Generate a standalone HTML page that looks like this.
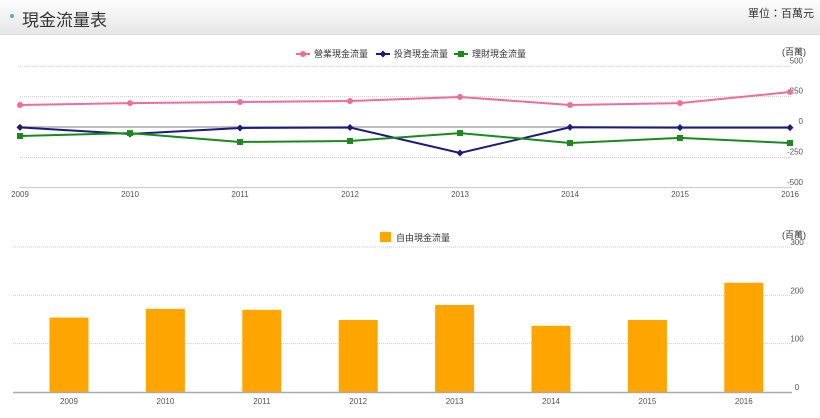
<!DOCTYPE html>
<html><head><meta charset="utf-8"><style>
body{margin:0;width:820px;height:418px;background:#fff;font-family:"Liberation Sans","Noto Sans CJK TC",sans-serif;overflow:hidden}
.hdr{position:absolute;left:0;top:0;width:820px;height:34px;background:linear-gradient(#fdfdfd,#e6e6e6);border-bottom:1px solid #ddd}
</style></head><body>
<div class="hdr">
<span style="position:absolute;left:10px;top:14px;width:4px;height:4px;border-radius:2px;background:#4ab0dc"></span>
<span style="position:absolute;left:22px;top:6px;font-size:17px;color:#333">現金流量表</span>
<span style="position:absolute;right:6px;top:5px;font-size:11px;color:#333">單位：百萬元</span>
</div>
<svg width="820" height="418" style="position:absolute;left:0;top:0" font-family="Liberation Sans, Noto Sans CJK TC, sans-serif">
<g id="c1"></g><g id="c2"></g>
</svg>
<script>
const years=["2009","2010","2011","2012","2013","2014","2015","2016"];
const operating=[181,197,206,214,247,181,197,288];
const investing=[-3,-58,-8,-4,-214,-2,-5,-5];
const financing=[-74,-50,-123,-115,-50,-132,-90,-132];
const lineTicks=[500,250,0,-250,-500];
const freeCash=[154,172,170,149,180,137,149,226];
const barTicks=[300,200,100,0];
const NS="http://www.w3.org/2000/svg";
function mk(p,t,a,txt){const e=document.createElementNS(NS,t);for(const k in a)e.setAttribute(k,a[k]);if(txt!=null)e.textContent=txt;p.appendChild(e);return e;}
const c1=document.getElementById('c1'),c2=document.getElementById('c2');
// line chart
const lx=i=>20+i*110, ly=v=>127-v*0.1215;
lineTicks.forEach(t=>{
 const l=mk(c1,'line',{x1:20,x2:792,y1:ly(t),y2:ly(t),stroke:t===0?'#aaa':'#ccc','stroke-width':t===0?1.5:1,'stroke-dasharray':t===0?'':'1,1'});
 
 const tx=mk(c1,'text',{x:803,y:ly(t)-3,'font-size':8,fill:'#555','text-anchor':'end'},String(t));
 
});
const u1=mk(c1,'text',{x:806,y:55,'font-size':9,fill:'#333','text-anchor':'end'},'(百萬)');

mk(c1,'line',{x1:20,x2:792,y1:187.5,y2:187.5,stroke:'#ccc'});
years.forEach((y,i)=>{const t=mk(c1,'text',{x:lx(i),y:197,'font-size':8,fill:'#555','text-anchor':'middle'},y);
 });
const series=[[operating,'#f06c9b','circle','operating-cash-flow'],[investing,'#1a1a80','diamond','investing-cash-flow'],[financing,'#1a8a1a','square','financing-cash-flow']];
series.forEach(([d,col,shape,name])=>{
 const p=mk(c1,'polyline',{points:d.map((v,i)=>lx(i)+','+ly(v)).join(' '),fill:'none',stroke:col,'stroke-width':2});
 
 d.forEach((v,i)=>{let m;const x=lx(i),y=ly(v);
  if(shape==='circle')m=mk(c1,'circle',{cx:x,cy:y,r:3,fill:col});
  else if(shape==='square')m=mk(c1,'rect',{x:x-3,y:y-3,width:6,height:6,fill:col});
  else m=mk(c1,'polygon',{points:`${x},${y-3.5} ${x+3.5},${y} ${x},${y+3.5} ${x-3.5},${y}`,fill:col});
  });
});
const legs=[['營業現金流量','#f06c9b','circle',303],['投資現金流量','#1a1a80','diamond',383],['理財現金流量','#1a8a1a','square',461]];
legs.forEach(([t,col,shape,x])=>{
 mk(c1,'line',{x1:x-7,x2:x+7,y1:54,y2:54,stroke:col,'stroke-width':2});
 if(shape==='circle')mk(c1,'circle',{cx:x,cy:54,r:3,fill:col});else if(shape==='square')mk(c1,'rect',{x:x-3,y:51,width:6,height:6,fill:col});else mk(c1,'polygon',{points:`${x},50.5 ${x+3.5},54 ${x},57.5 ${x-3.5},54`,fill:col});
 const e=mk(c1,'text',{x:x+11,y:57,'font-size':9,fill:'#333'},t);
 
});
// bar chart
const bx=i=>69+i*96.4, by=v=>392-v*0.4833;
barTicks.forEach(t=>{
 if(t>0){const l=mk(c2,'line',{x1:13,x2:792,y1:by(t),y2:by(t),stroke:'#ccc','stroke-dasharray':'1,1'});
 }
 const tx=mk(c2,'text',{x:797,y:by(t)-2,'font-size':8,fill:'#555','text-anchor':'middle'},String(t));
 
});
const u2=mk(c2,'text',{x:806,y:238,'font-size':9,fill:'#333','text-anchor':'end'},'(百萬)');

freeCash.forEach((v,i)=>{const r=mk(c2,'rect',{x:bx(i)-19.5,y:by(v),width:39,height:by(0)-by(v),fill:'#ffa500'});
 });
mk(c2,'line',{x1:13,x2:792,y1:392.5,y2:392.5,stroke:'#aaa','stroke-width':1.5});
years.forEach((y,i)=>{const t=mk(c2,'text',{x:bx(i),y:404,'font-size':8,fill:'#555','text-anchor':'middle'},y);
 });
mk(c2,'rect',{x:380,y:232,width:11,height:10,fill:'#ffa500'});
const lg=mk(c2,'text',{x:396,y:241,'font-size':9,fill:'#333'},'自由現金流量');

</script>
</body></html>
